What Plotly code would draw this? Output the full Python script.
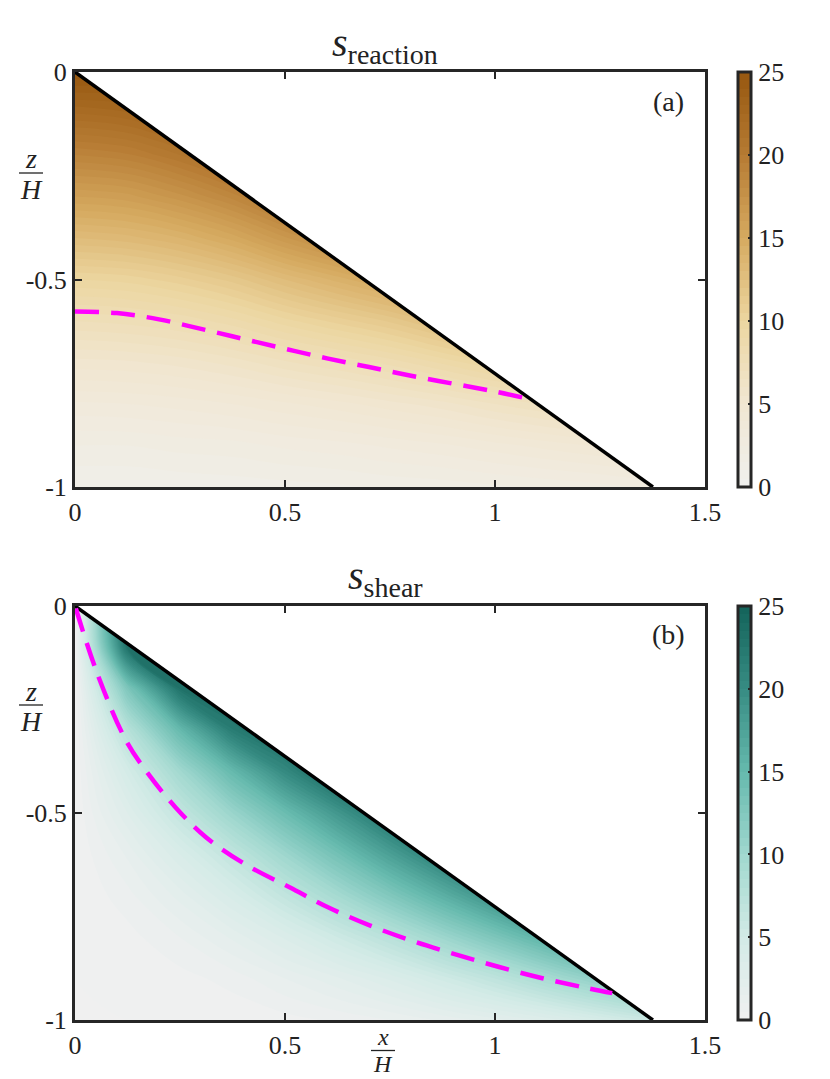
import plotly.graph_objects as go

# ---------------- data ----------------
x_grid = [0, 0.125, 0.25, 0.375, 0.5, 0.625, 0.75, 0.875, 1.0, 1.125, 1.25, 1.375, 1.5]
z_grid = [0, -0.1, -0.2, -0.3, -0.4, -0.5, -0.6, -0.7, -0.8, -0.9, -1.0]

s_reaction = [
    [25, 25, 25, 25, 25, 25, 25, 25, 25, 25, 25, 25, 25],
    [22, 22.4, 23.8, 25, 25, 25, 25, 25, 25, 25, 25, 25, 25],
    [19, 19.4, 20.5, 22.2, 24.7, 25, 25, 25, 25, 25, 25, 25, 25],
    [16, 16.3, 17.3, 18.7, 20.8, 22.7, 24.8, 25, 25, 25, 25, 25, 25],
    [13, 13.3, 14.0, 15.2, 16.9, 18.5, 20.2, 22.4, 24.7, 25, 25, 25, 25],
    [10, 10.2, 10.8, 11.7, 13.0, 14.2, 15.5, 17.2, 19.0, 21.0, 23.0, 25, 25],
    [7.5, 7.7, 8.1, 8.8, 9.8, 10.7, 11.6, 12.9, 14.3, 15.8, 17.3, 19.1, 21.0],
    [5.3, 5.4, 5.7, 6.2, 6.9, 7.5, 8.2, 9.1, 10.1, 11.1, 12.2, 13.5, 14.8],
    [3.4, 3.5, 3.7, 4.0, 4.4, 4.8, 5.3, 5.8, 6.5, 7.1, 7.8, 8.7, 9.5],
    [2.0, 2.0, 2.2, 2.3, 2.6, 2.8, 3.1, 3.4, 3.8, 4.2, 4.6, 5.1, 5.6],
    [1.0, 1.0, 1.1, 1.2, 1.3, 1.4, 1.6, 1.7, 1.9, 2.1, 2.3, 2.6, 2.8],
]

s_shear = [
    [0, 25, 25, 25, 25, 25, 25, 25, 25, 25, 25, 25, 25],
    [0, 23.2, 25, 25, 25, 25, 25, 25, 25, 25, 25, 25, 25],
    [0, 12.8, 23.1, 25, 25, 25, 25, 25, 25, 25, 25, 25, 25],
    [0, 7.7, 14.9, 21.9, 25, 25, 25, 25, 25, 25, 25, 25, 25],
    [0, 4.7, 9.8, 15.0, 20.3, 25, 25, 25, 25, 25, 25, 25, 25],
    [0, 3.0, 6.6, 10.5, 14.5, 18.8, 23.2, 25, 25, 25, 25, 25, 25],
    [0, 1.6, 4.0, 6.8, 10.2, 13.8, 17.8, 21.8, 25, 25, 25, 25, 25],
    [0, 0.8, 2.2, 4.2, 6.7, 9.5, 12.6, 16.0, 19.6, 23.4, 25, 25, 25],
    [0, 0.3, 1.0, 2.1, 3.6, 5.5, 7.6, 10.2, 13.0, 16.1, 19.4, 23.0, 25],
    [0, 0.1, 0.3, 0.7, 1.5, 2.4, 3.6, 5.2, 7.0, 9.2, 11.6, 14.3, 17.2],
    [0, 0, 0, 0.1, 0.3, 0.6, 1.0, 1.6, 2.3, 3.2, 4.4, 5.8, 7.4],
]

# slope line (hypotenuse of the wedge)
slope_x = [0, 1.376]
slope_z = [0, -1]
# white mask over the region outside the wedge
mask_x = [-0.02, 1.6, 1.6, 1.376, 0, -0.02]
mask_z = [0.05, 0.05, -1.05, -1.0, 0, 0.05]

# dashed magenta curves
dash_a_x = [0, 0.1, 0.2, 0.3, 0.4, 0.5, 0.6, 0.7, 0.8, 0.9, 1.0, 1.09]
dash_a_z = [-0.577, -0.581, -0.596, -0.619, -0.643, -0.667, -0.690, -0.711, -0.732, -0.751, -0.770, -0.790]

dash_b_x = [0.002, 0.053, 0.121, 0.174, 0.239, 0.311, 0.409, 0.512, 0.601, 0.703, 0.806,
            0.908, 1.010, 1.113, 1.215, 1.279]
dash_b_z = [-0.006, -0.163, -0.324, -0.405, -0.486, -0.558, -0.626, -0.680, -0.727, -0.772, -0.810,
            -0.842, -0.872, -0.899, -0.922, -0.935]

x_ticks = [0, 0.5, 1, 1.5]
x_ticktext = ["0", "0.5", "1", "1.5"]
z_ticks = [-1, -0.5, 0]
z_ticktext = ["-1", "-0.5", "0"]
cb_ticks = [0, 5, 10, 15, 20, 25]

brown_scale = [[0.0, "#f0f0ee"], [0.2, "#f1e7d2"], [0.4, "#ecd6a0"], [0.6, "#d6aa60"],
               [0.8, "#b67b33"], [1.0, "#96570f"]]
teal_scale = [[0.0, "#f0f0f0"], [0.2, "#d2ebe6"], [0.4, "#a0d8cf"], [0.6, "#65b9ad"],
              [0.8, "#378c83"], [1.0, "#13635a"]]

# ---------------- layout geometry ----------------
W, H = 830, 1079
FONT = "Liberation Serif"
AX = "#262626"
TXT = "#222222"

def py(p):
    return 1 - p / H

x_dom = [75 / W, 705 / W]
y_dom_a = [py(487), py(72)]
y_dom_b = [py(1020), py(606)]

fig = go.Figure()

def add_panel(vals, scale, dx, dz, xa, ya, ydom):
    fig.add_trace(go.Contour(
        x=x_grid, y=z_grid, z=vals, colorscale=scale, zmin=0, zmax=25,
        contours=dict(start=0, end=25, size=0.5, coloring="fill", showlines=False),
        line=dict(width=0), xaxis=xa, yaxis=ya,
        colorbar=dict(x=738 / W, xanchor="left", y=ydom[0], yanchor="bottom",
                      len=ydom[1] - ydom[0], lenmode="fraction", thickness=13,
                      xpad=0, ypad=0, outlinewidth=3, outlinecolor=AX,
                      tickvals=cb_ticks, ticks="inside", ticklen=4, tickwidth=2,
                      tickcolor=AX, tickfont=dict(family=FONT, size=26, color=TXT)),
    ))
    fig.add_trace(go.Scatter(x=mask_x, y=mask_z, mode="lines", fill="toself",
                             fillcolor="white", line=dict(width=0, color="white"),
                             xaxis=xa, yaxis=ya, hoverinfo="skip"))
    fig.add_trace(go.Scatter(x=slope_x, y=slope_z, mode="lines",
                             line=dict(color="black", width=3.5), xaxis=xa, yaxis=ya))
    fig.add_trace(go.Scatter(x=dx, y=dz, mode="lines",
                             line=dict(color="#ff00ff", width=4.5, dash="24px,12px",
                                       shape="spline", smoothing=1.0),
                             xaxis=xa, yaxis=ya))

add_panel(s_reaction, brown_scale, dash_a_x, dash_a_z, "x", "y", y_dom_a)
add_panel(s_shear, teal_scale, dash_b_x, dash_b_z, "x2", "y2", y_dom_b)

axis_common = dict(showline=True, linewidth=3, linecolor=AX, mirror="ticks",
                   ticks="inside", ticklen=7, tickwidth=2, tickcolor=AX,
                   showgrid=False, zeroline=False,
                   tickfont=dict(family=FONT, size=26, color=TXT))

fig.update_layout(
    width=W, height=H, margin=dict(l=0, r=0, t=0, b=0, autoexpand=False),
    paper_bgcolor="white", plot_bgcolor="white", showlegend=False,
    xaxis=dict(domain=x_dom, range=[0, 1.5], tickvals=x_ticks, ticktext=x_ticktext,
               anchor="y", **axis_common),
    yaxis=dict(domain=y_dom_a, range=[-1, 0], tickvals=z_ticks, ticktext=z_ticktext,
               anchor="x", **axis_common),
    xaxis2=dict(domain=x_dom, range=[0, 1.5], tickvals=x_ticks, ticktext=x_ticktext,
                anchor="y2", **axis_common),
    yaxis2=dict(domain=y_dom_b, range=[-1, 0], tickvals=z_ticks, ticktext=z_ticktext,
                anchor="x2", **axis_common),
)

ann_font = dict(family=FONT, size=28, color=TXT)
small_font = dict(family=FONT, size=24, color=TXT)
title_font = dict(family=FONT, size=40, color=TXT)
annotations = [
    dict(text="<i>s</i><sub>reaction</sub>", x=385 / W, y=py(45), font=title_font),
    dict(text="<i>s</i><sub>shear</sub>", x=385 / W, y=py(578), font=title_font),
    dict(text="(a)", x=668 / W, y=py(101), font=ann_font),
    dict(text="(b)", x=668 / W, y=py(634), font=ann_font),
    dict(text="<i>z</i>", x=31 / W, y=py(159), font=ann_font),
    dict(text="<i>H</i>", x=31 / W, y=py(189), font=ann_font),
    dict(text="<i>z</i>", x=31 / W, y=py(691), font=ann_font),
    dict(text="<i>H</i>", x=31 / W, y=py(721), font=ann_font),
    dict(text="<i>x</i>", x=383 / W, y=py(1037), font=small_font),
    dict(text="<i>H</i>", x=383 / W, y=py(1064), font=small_font),
]
for a in annotations:
    fig.add_annotation(xref="paper", yref="paper", showarrow=False,
                       xanchor="center", yanchor="middle", **a)

# fraction bars
for (x0, x1, yp) in [(19, 43, 173), (19, 43, 705), (371, 395, 1050.5)]:
    fig.add_shape(type="line", xref="paper", yref="paper", x0=x0 / W, x1=x1 / W,
                  y0=py(yp), y1=py(yp), line=dict(color=TXT, width=1.3))

fig.write_html("out.html", config={"displayModeBar": False},
               post_script="document.body.style.margin='0px';document.body.style.overflow='hidden';")
